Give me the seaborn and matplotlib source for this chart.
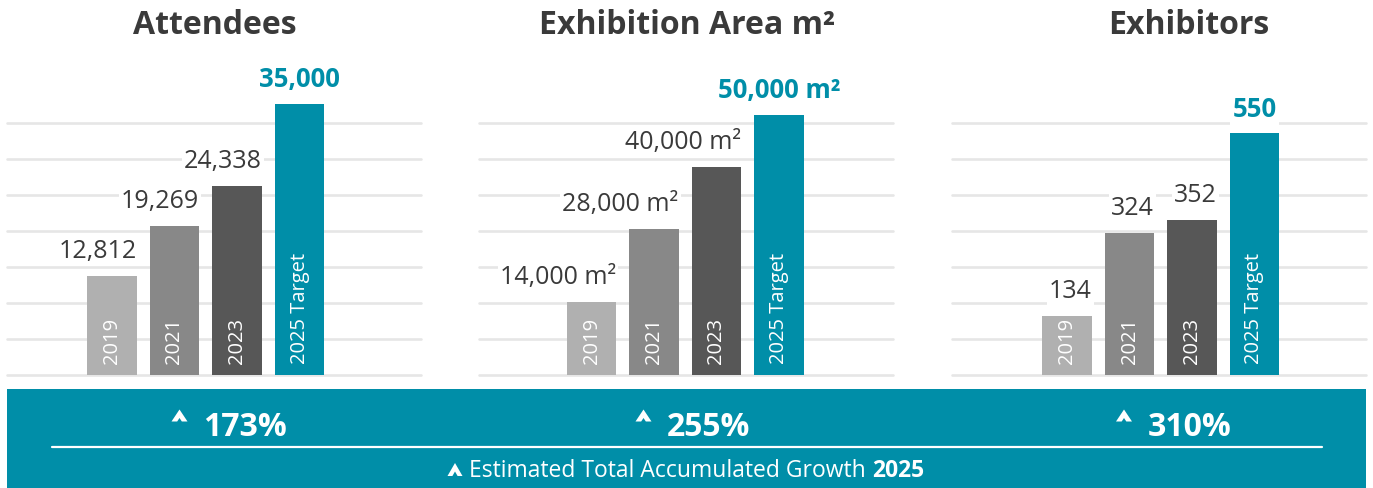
import numpy as np
import pandas as pd
import matplotlib
matplotlib.use("Agg")
import matplotlib.pyplot as plt
from matplotlib.lines import Line2D
from matplotlib.patches import Rectangle, Polygon
import seaborn as sns

# ---------------- data ----------------
categories = ["2019", "2021", "2023", "2025 Target"]
attendees = [12812, 19269, 24338, 35000]
exhibition_area = [14000, 28000, 40000, 50000]
exhibitors = [134, 324, 352, 550]
growth_pct = [173, 255, 310]
titles = ["Attendees", "Exhibition Area m²", "Exhibitors"]
suffixes = ["", " m²", ""]
footer_text = "Estimated Total Accumulated Growth "
footer_year = "2025"

# ---------------- style ----------------
sns.set_theme(style="white")
plt.rcParams["font.family"] = ["Open Sans", "DejaVu Sans"]

TEAL = "#008EA8"
bar_colors = ["#B0B0B0", "#888888", "#575757", TEAL]
DARK = "#3A3A3A"
GRID = "#E6E6E6"

W, H = 1373, 488
fig = plt.figure(figsize=(W / 100, H / 100), dpi=100)


def fx(x):
    return x / W


def fy(y):
    return 1 - y / H


series = [attendees, exhibition_area, exhibitors]
ax_left_px = [7, 479, 952]
ax_width_px = 414
ax_bottom_px = 374
ax_height_px = 334
ymax = [43100, 64230, 760]
xleft = [-1.68, -1.80, -1.84]
title_x = [215, 687, 1189]

for k in range(3):
    ax = fig.add_axes([fx(ax_left_px[k]), fy(ax_bottom_px) - 0.002, ax_width_px / W, ax_height_px / H])
    df = pd.DataFrame({"year": categories, "value": series[k]})
    sns.barplot(data=df, x="year", y="value", hue="year", palette=bar_colors,
                saturation=1, width=0.79, legend=False, ax=ax, linewidth=0, zorder=2)
    ax.set_xlim(xleft[k], xleft[k] + ax_width_px / 62.5)
    ax.set_ylim(0, ymax[k])
    ax.set_yticks(np.arange(8) * ymax[k] * 36 / ax_height_px)
    ax.set_axisbelow(True)
    ax.grid(axis="y", color=GRID, linewidth=1.9)
    ax.grid(axis="x", visible=False)
    for s in ax.spines.values():
        s.set_visible(False)
    ax.set_xticks([])
    ax.set_yticklabels([])
    ax.tick_params(length=0)
    ax.set_xlabel("")
    ax.set_ylabel("")
    ax.patch.set_alpha(0)
    for gl in ax.get_ygridlines():
        gl.set_clip_on(False)

    for i, (cat, v) in enumerate(zip(categories, series[k])):
        label = f"{v:,}{suffixes[k]}"
        if i < 3:
            ax.annotate(label, xy=(i + 0.395, v), xytext=(0, 13), textcoords="offset points",
                        ha="right", va="baseline", fontsize=18, color=DARK, zorder=5,
                        bbox=dict(facecolor="white", edgecolor="none", pad=1.5))
        else:
            ax.annotate(label, xy=(i, v), xytext=(0, 12), textcoords="offset points",
                        ha="center", va="baseline", fontsize=18.5, fontweight="bold",
                        color=TEAL, zorder=5,
                        bbox=dict(facecolor="white", edgecolor="none", pad=1.5))
        # year label inside bar
        ax.annotate(cat, xy=(i, 0), xytext=(0, 8), textcoords="offset points",
                    ha="center", va="bottom", rotation=90, fontsize=14.5,
                    color="white", zorder=6)

    fig.text(fx(title_x[k]), fy(34), titles[k], ha="center", va="baseline",
             fontsize=23, fontweight="bold", color=DARK)

# ---------------- bottom band ----------------
fig.add_artist(Rectangle((fx(7), 0), fx(1366) - fx(7), fy(389), transform=fig.transFigure,
                         facecolor=TEAL, edgecolor="none", zorder=0))
fig.add_artist(Line2D([fx(52), fx(1322)], [fy(447), fy(447)], transform=fig.transFigure,
                      color="white", linewidth=1.6))


def chevron(cx, ybottom, w, h, t):
    d = t * w / (2 * h)
    pts = [(cx - w / 2, ybottom), (cx, ybottom - h), (cx + w / 2, ybottom),
           (cx + w / 2 - d, ybottom), (cx, ybottom - h + t), (cx - w / 2 + d, ybottom)]
    fig.add_artist(Polygon([(fx(x), fy(y)) for x, y in pts], closed=True,
                           transform=fig.transFigure, facecolor="white",
                           edgecolor="none", zorder=3))


chev_x = [179.5, 643.5, 1124]
pct_x = [203, 667, 1148]
for k in range(3):
    chevron(chev_x[k], 421.5, 16, 12, 8.5)
    fig.text(fx(pct_x[k]), fy(436), f"{growth_pct[k]}%", ha="left", va="baseline",
             fontsize=23, fontweight="bold", color="white")

chevron(455, 476, 15, 13, 8.5)
t = fig.text(fx(469), fy(477), footer_text, ha="left", va="baseline",
             fontsize=16.5, color="white")
fig.canvas.draw()
bb = t.get_window_extent()
fig.text(bb.x1 / W, fy(477), footer_year, ha="left", va="baseline",
         fontsize=16.5, fontweight="bold", color="white")

fig.savefig("out.png", dpi=100, facecolor="white")
